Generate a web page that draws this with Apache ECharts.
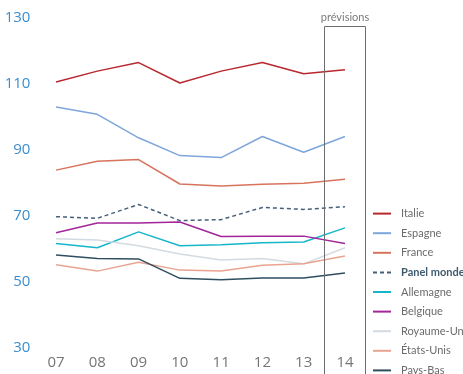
<!DOCTYPE html>
<html>
<head>
<meta charset="utf-8">
<script src="https://cdn.jsdelivr.net/npm/echarts@6/dist/echarts.min.js"></script>
<style>
html,body{margin:0;padding:0;background:#fff;}
#chart{width:463px;height:374px;}
</style>
</head>
<body>
<div id="chart"></div>
<script>
var years = ['07','08','09','10','11','12','13','14'];
var yTicks = [30, 50, 70, 90, 110, 130];
var italie     = [110.6, 113.9, 116.5, 110.3, 113.9, 116.5, 113.1, 114.3];
var espagne    = [103.0, 100.8, 93.7, 88.3, 87.7, 94.1, 89.3, 94.1];
var france     = [83.9, 86.6, 87.1, 79.7, 79.1, 79.6, 79.9, 81.1];
var panelMonde = [69.8, 69.3, 73.5, 68.6, 68.9, 72.6, 72.0, 72.8];
var allemagne  = [61.7, 60.4, 65.2, 61.0, 61.3, 61.9, 62.1, 66.4];
var belgique   = [64.9, 67.9, 67.9, 68.2, 63.8, 63.9, 63.9, 61.7];
var royaumeUni = [63.1, 62.7, 61.0, 58.5, 56.7, 57.1, 55.5, 60.4];
var etatsUnis  = [55.2, 53.3, 56.0, 53.6, 53.3, 55.1, 55.5, 57.9];
var paysBas    = [58.2, 57.1, 57.0, 51.1, 50.7, 51.2, 51.2, 52.7];
var forecastLabel = 'prévisions';

var chart = echarts.init(document.getElementById('chart'), null, {renderer:'canvas'});
function line(name, data, color, dashed) {
  return {
    name: name, type: 'line', data: data, symbol: 'none', smooth: false,
    lineStyle: {color: color, width: 1.5, type: dashed ? [4, 3] : 'solid'},
    itemStyle: {color: color},
    emphasis: {disabled: true}
  };
}
var font = '"Open Sans", "Noto Sans", sans-serif';
var narrow = 'Lato, Roboto, sans-serif';
chart.setOption({
  animation: false,
  textStyle: {fontFamily: font},
  grid: {left: 35.4, right: 97.4, top: 18, bottom: 26, containLabel: false},
  xAxis: {
    type: 'category', data: years, boundaryGap: true,
    axisLine: {show: false}, axisTick: {show: false}, splitLine: {show: false},
    axisLabel: {color: '#757575', fontSize: 15, fontFamily: font, margin: 7, verticalAlign: 'top'}
  },
  yAxis: {
    type: 'value', min: yTicks[0], max: yTicks[yTicks.length - 1], interval: 20,
    axisLine: {show: false}, axisTick: {show: false}, splitLine: {show: false},
    axisLabel: {color: '#3a8ed2', fontSize: 15, fontFamily: font, margin: 5}
  },
  legend: {
    orient: 'vertical', left: 372, top: 208, padding: 0, height: 220,
    itemWidth: 18, itemHeight: 14, itemGap: 8.4,
    itemStyle: {opacity: 0},
    lineStyle: {width: 2},
    textStyle: {color: '#6b6b6b', fontSize: 11, fontFamily: narrow, padding: [0, 0, 0, 5]},
    data: ['Italie', 'Espagne', 'France',
      {name: 'Panel monde', textStyle: {fontWeight: 'bold', color: '#3f5a6e'}},
      'Allemagne', 'Belgique', 'Royaume-Uni', 'États-Unis', 'Pays-Bas']
  },
  series: [
    line('Italie', italie, '#b8282e'),
    line('Espagne', espagne, '#7ea6dc'),
    line('France', france, '#d8735e'),
    line('Panel monde', panelMonde, '#45607a', true),
    line('Allemagne', allemagne, '#16b6c9'),
    line('Belgique', belgique, '#a3259a'),
    line('Royaume-Uni', royaumeUni, '#d3dbe1'),
    line('États-Unis', etatsUnis, '#e9a491'),
    line('Pays-Bas', paysBas, '#2f4f60')
  ]
});

// forecast box around the last category, derived from the axis
var last = years.length - 1;
var cx = chart.convertToPixel({xAxisIndex: 0}, years[last]);
var px = chart.convertToPixel({xAxisIndex: 0}, years[last - 1]);
var band = cx - px;
var topY = 26;
chart.setOption({
  graphic: [
    {type: 'rect', silent: true, z: 10,
      shape: {x: Math.round(cx - band / 2) + 0.5, y: topY + 0.5, width: Math.round(band), height: 400},
      style: {fill: 'none', stroke: '#6e6e6e', lineWidth: 1}},
    {type: 'text', silent: true, z: 10,
      x: cx, y: topY - 3,
      style: {text: forecastLabel, fill: '#7a7a7a', font: '11px ' + narrow, textAlign: 'center', textVerticalAlign: 'bottom'}}
  ]
});
</script>
</body>
</html>
